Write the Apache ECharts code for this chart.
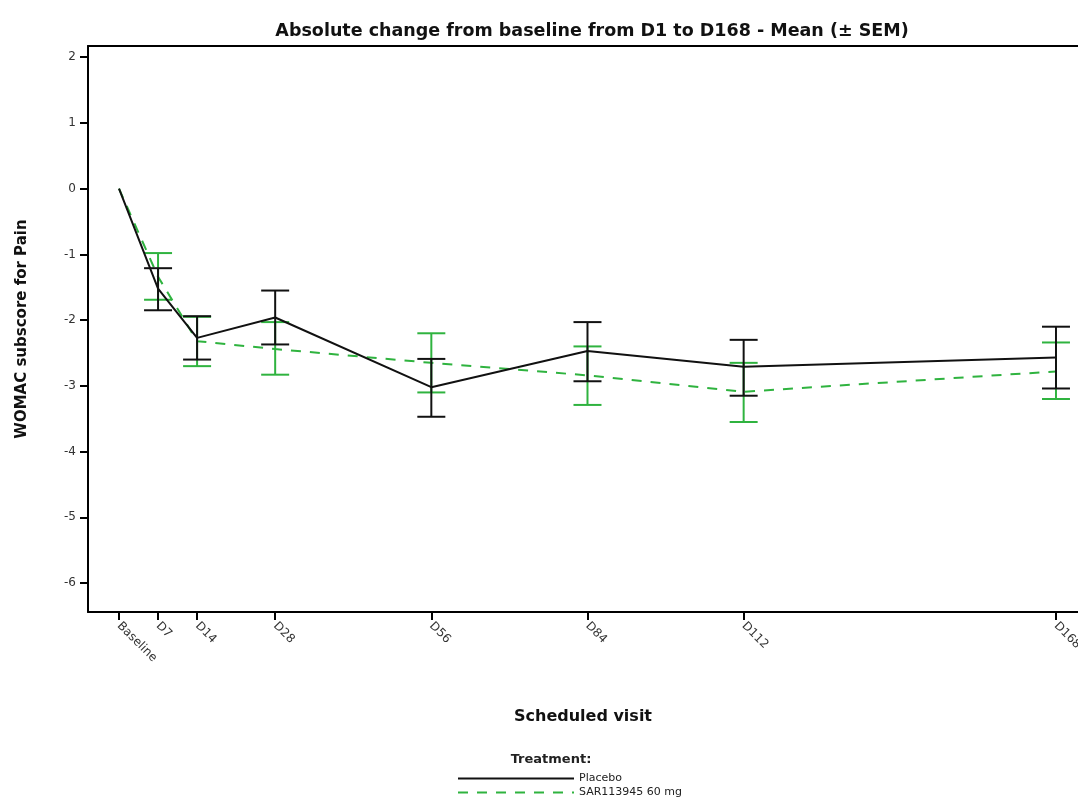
<!DOCTYPE html>
<html>
<head>
<meta charset="utf-8" />
<script src="https://cdn.jsdelivr.net/npm/echarts@6.0.0/dist/echarts.min.js"></script>
<title>WOMAC Pain - change from baseline</title>
<style>
  html, body { margin: 0; padding: 0; background: #fff; }
  #chart { width: 1078px; height: 807px; }
</style>
</head>
<body>
<div id="chart"></div>
<script>
// visits (study day) and their labels
var visitDays = [0, 7, 14, 28, 56, 84, 112, 168];
var visitLabels = ['Baseline', 'D7', 'D14', 'D28', 'D56', 'D84', 'D112', 'D168'];
var yTicks = [-6, -5, -4, -3, -2, -1, 0, 1, 2];

// Placebo: mean and mean +/- SEM
var placeboMean = [0, -1.52, -2.27, -1.96, -3.02, -2.47, -2.71, -2.57];
var placeboLow  = [0, -1.85, -2.60, -2.37, -3.47, -2.93, -3.15, -3.04];
var placeboHigh = [0, -1.21, -1.94, -1.55, -2.59, -2.03, -2.30, -2.10];

// SAR113945 60 mg
var sarMean = [0, -1.34, -2.32, -2.44, -2.65, -2.84, -3.09, -2.78];
var sarLow  = [0, -1.69, -2.70, -2.83, -3.10, -3.29, -3.55, -3.20];
var sarHigh = [0, -0.98, -1.95, -2.03, -2.20, -2.40, -2.65, -2.34];

var green = '#2fb33f';
var font = '"DejaVu Sans", Arial, sans-serif';

function pairs(ys) {
    var out = [];
    for (var i = 0; i < visitDays.length; i++) out.push([visitDays[i], ys[i]]);
    return out;
}
function bars(lo, hi) {
    var out = [];
    for (var i = 1; i < visitDays.length; i++) out.push([visitDays[i], lo[i], hi[i]]);
    return out;
}

// error bar with caps
function errorBar(color) {
    return function (params, api) {
        var top = api.coord([api.value(0), api.value(2)]);
        var bot = api.coord([api.value(0), api.value(1)]);
        var w = 14;
        var st = { stroke: color, lineWidth: 2 };
        return {
            type: 'group',
            children: [
                { type: 'line', shape: { x1: top[0], y1: top[1], x2: bot[0], y2: bot[1] }, style: st },
                { type: 'line', shape: { x1: top[0] - w, y1: top[1], x2: top[0] + w, y2: top[1] }, style: st },
                { type: 'line', shape: { x1: bot[0] - w, y1: bot[1], x2: bot[0] + w, y2: bot[1] }, style: st }
            ]
        };
    };
}

var myChart = echarts.init(document.getElementById('chart'));
var option = {
    backgroundColor: '#fff',
    animation: false,
    textStyle: { fontFamily: font },
    title: [{
        text: 'Absolute change from baseline from D1 to D168 - Mean (\u00b1 SEM)',
        left: 587, top: 17, textAlign: 'center',
        textStyle: { fontSize: 17.5, fontWeight: 'bold', color: '#111', fontFamily: font }
    }, {
        text: 'Treatment:',
        left: 546, top: 748, textAlign: 'center',
        textStyle: { fontSize: 13, fontWeight: 'bold', color: '#222', fontFamily: font }
    }],
    legend: {
        data: ['Placebo', 'SAR113945 60 mg'],
        orient: 'vertical',
        left: 452, top: 768,
        itemWidth: 116, itemHeight: 8, itemGap: 3,
        itemStyle: { opacity: 0 },
        textStyle: { fontSize: 11, color: '#222', fontFamily: font }
    },
    grid: {
        left: 88, top: 46, right: 0, bottom: 195,
        outerBoundsMode: 'none', containLabel: false
    },
    xAxis: [{
        type: 'value',
        min: -5.56, max: 171.95,
        name: 'Scheduled visit',
        nameLocation: 'middle', nameGap: 97,
        nameTextStyle: { fontSize: 16, fontWeight: 'bold', color: '#111', fontFamily: font },
        splitLine: { show: false },
        axisLine: { show: true, onZero: false, lineStyle: { color: '#000', width: 2 } },
        axisTick: { show: true, length: 8, customValues: visitDays, lineStyle: { color: '#000', width: 2 } },
        axisLabel: {
            customValues: visitDays,
            rotate: -45, margin: 12,
            fontSize: 12, color: '#333',
            formatter: function (v) { return visitLabels[visitDays.indexOf(v)]; }
        }
    }, {
        // top frame line only
        type: 'value',
        position: 'top',
        min: -5.56, max: 171.95,
        splitLine: { show: false },
        axisLine: { show: true, onZero: false, lineStyle: { color: '#000', width: 2 } },
        axisTick: { show: false },
        axisLabel: { show: false }
    }],
    yAxis: {
        type: 'value',
        min: -6.44, max: 2.17,
        name: 'WOMAC subscore for Pain',
        nameLocation: 'middle', nameGap: 58, nameRotate: 90,
        nameTextStyle: { fontSize: 15, fontWeight: 'bold', color: '#111', fontFamily: font },
        splitLine: { show: false },
        axisLine: { show: true, onZero: false, lineStyle: { color: '#000', width: 2 } },
        axisTick: { show: true, length: 8, customValues: yTicks, lineStyle: { color: '#000', width: 2 } },
        axisLabel: { customValues: yTicks, fontSize: 12, color: '#333', margin: 12 }
    },
    series: [{
        name: 'Placebo',
        type: 'line',
        data: pairs(placeboMean),
        symbol: 'none',
        lineStyle: { color: '#111', width: 2 },
        itemStyle: { color: '#111' },
        z: 4
    }, {
        name: 'SAR113945 60 mg',
        type: 'line',
        data: pairs(sarMean),
        symbol: 'none',
        lineStyle: { color: green, width: 2, type: [10, 9] },
        itemStyle: { color: green },
        z: 3
    }, {
        name: 'sarErr',
        type: 'custom',
        renderItem: errorBar(green),
        data: bars(sarLow, sarHigh),
        encode: { x: 0, y: [1, 2] },
        z: 2
    }, {
        name: 'placeboErr',
        type: 'custom',
        renderItem: errorBar('#111'),
        data: bars(placeboLow, placeboHigh),
        encode: { x: 0, y: [1, 2] },
        z: 5
    }]
};
myChart.setOption(option);
</script>
</body>
</html>
